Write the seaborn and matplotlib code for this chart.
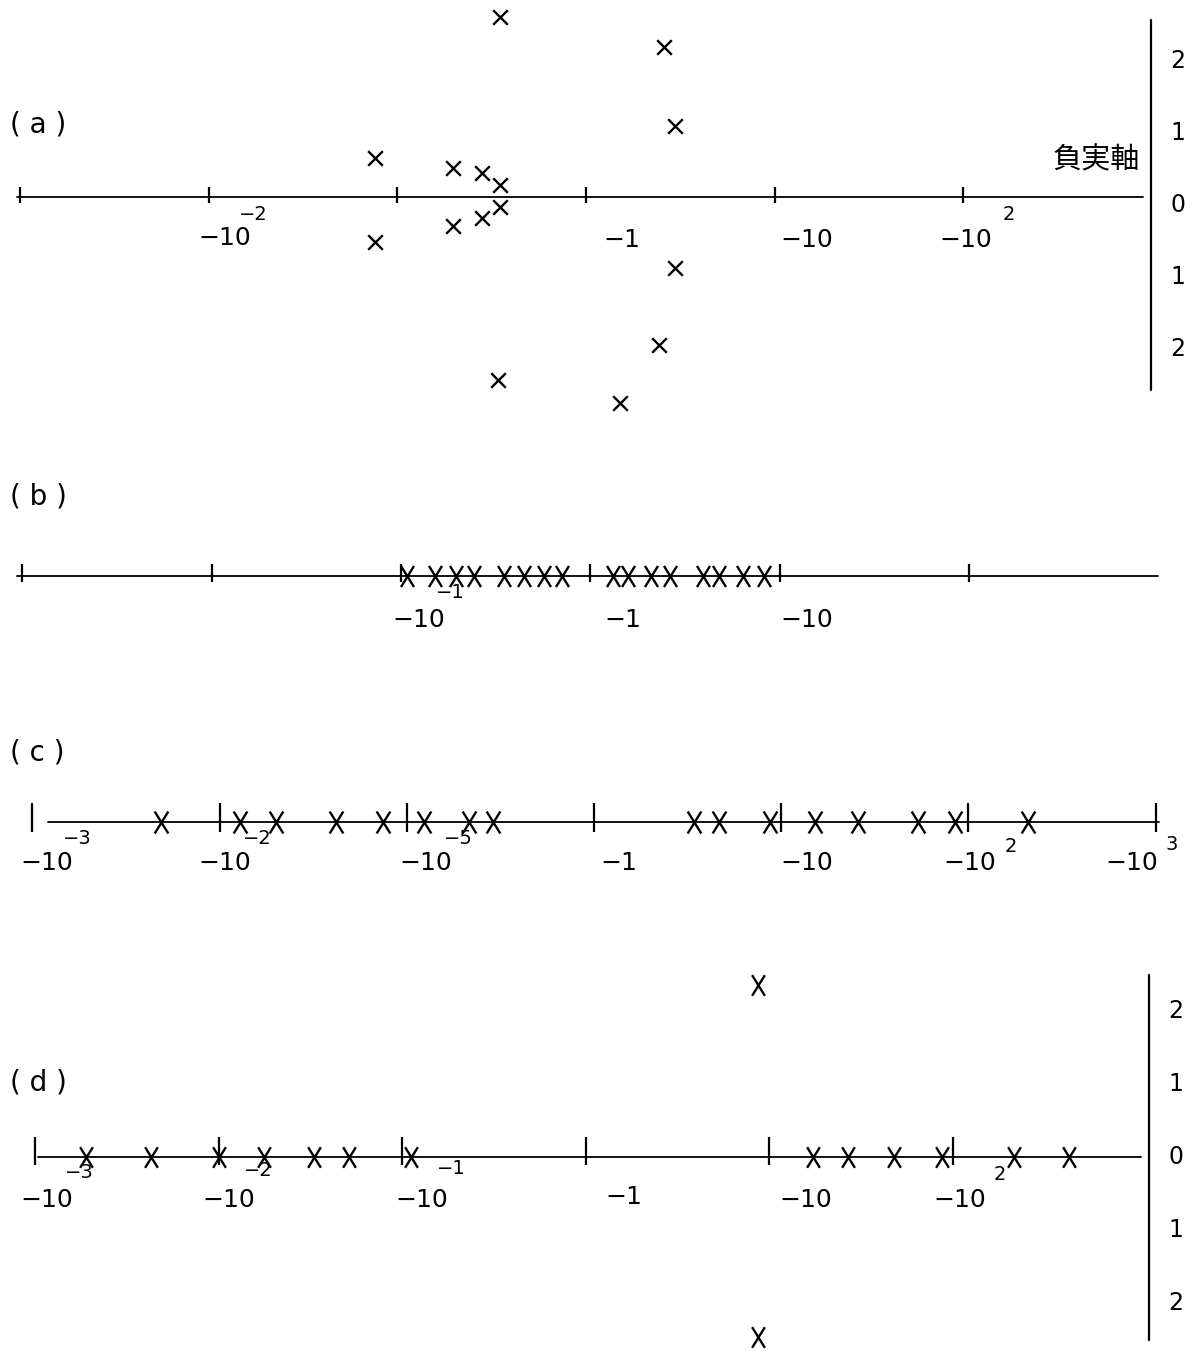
import matplotlib
matplotlib.use("Agg")
import matplotlib.pyplot as plt
from matplotlib.markers import MarkerStyle
from matplotlib.transforms import Affine2D
import seaborn as sns
import pandas as pd

sns.set_theme(style="white")
plt.rcParams["font.family"] = ["DejaVu Sans", "Noto Sans CJK JP"]
plt.rcParams["text.color"] = "black"

W, H = 1197, 1351

# pole positions: magnitude on the negative real axis, imaginary part
a_re = [0.35, 0.076, 0.197, 0.28, 0.35, 0.35, 0.28, 0.197, 0.076, 0.34,
        2.6, 2.95, 2.95, 2.45, 1.51]
a_im = [2.5, 0.54, 0.40, 0.33, 0.17, -0.14, -0.29, -0.40, -0.63, -2.54,
        2.08, 0.99, -0.99, -2.06, -2.86]

b_re = [0.108, 0.151, 0.196, 0.243, 0.349, 0.444, 0.569, 0.705,
        1.32, 1.57, 2.10, 2.62, 3.92, 4.75, 6.37, 8.22]

c_re = [0.00488, 0.0129, 0.0200, 0.0417, 0.0748, 0.123, 0.214, 0.288,
        3.43, 4.65, 8.71, 15.1, 25.7, 53.7, 85.1, 209]

d_re = [0.00191, 0.00427, 0.0100, 0.0178, 0.0331, 0.0513, 0.112,
        17.4, 26.9, 47.9, 87.1, 214, 427, 8.7, 8.7]
d_im = [0, 0, 0, 0, 0, 0, 0, 0, 0, 0, 0, 0, 0, 2.36, -2.47]

imag_ticks = [2, 1, 0, -1, -2]

# panel geometry in pixels: top, bottom, zero line, x of -1, px per decade, px per unit
panels = {
    "a": dict(top=0, bottom=430, zero=197, x0=586, dec=188.6, unit=72),
    "b": dict(top=520, bottom=650, zero=576, x0=590.4, dec=189.4, unit=72),
    "c": dict(top=770, bottom=905, zero=822, x0=594, dec=187.2, unit=72),
    "d": dict(top=950, bottom=1351, zero=1157, x0=585.7, dec=183.6, unit=73),
}

fig = plt.figure(figsize=(W / 100, H / 100), dpi=100)


def make_ax(p):
    ax = fig.add_axes([0, 1 - p["bottom"] / H, 1, (p["bottom"] - p["top"]) / H])
    ax.set_xscale("log")
    ax.set_xlim(10 ** ((0 - p["x0"]) / p["dec"]), 10 ** ((W - p["x0"]) / p["dec"]))
    ax.set_ylim((p["zero"] - p["bottom"]) / p["unit"], (p["zero"] - p["top"]) / p["unit"])
    ax.axis("off")
    ax.patch.set_alpha(0)
    return ax


def px2x(p, px):
    return 10 ** ((px - p["x0"]) / p["dec"])


def draw_axis(ax, p, x_from, x_to, ticks, up, down):
    ax.plot([px2x(p, x_from), px2x(p, x_to)], [0, 0], color="black", lw=1.3)
    ax.vlines([10.0 ** k for k in ticks], -down / p["unit"], up / p["unit"],
              color="black", lw=1.6)


def tick_labels(ax, labels):
    for k, txt, dx, dy, size in labels:
        ax.annotate(txt, (10.0 ** k, 0), xytext=(dx, -dy), textcoords="offset pixels",
                    ha="center", va="center", fontsize=size, color="black")


def imag_axis(ax, p, px, y_top, y_bot, dy):
    xv = px2x(p, px)
    ax.plot([xv, xv], [(p["zero"] - y_top) / p["unit"], (p["zero"] - y_bot) / p["unit"]],
            color="black", lw=1.6)
    for v in imag_ticks:
        ax.annotate(str(abs(v)), (xv, v), xytext=(27, -dy), textcoords="offset pixels",
                    ha="center", va="center", fontsize=17, color="black")


small_x = "x"
tall_x = MarkerStyle("x", transform=Affine2D().scale(0.62, 1.0))
BIG, SM = 18, 14

# (a)
p = panels["a"]
ax = make_ax(p)
draw_axis(ax, p, 17, 1143, [-3, -2, -1, 0, 1, 2], 10, 6)
sns.scatterplot(data=pd.DataFrame({"re": a_re, "im": a_im}), x="re", y="im", ax=ax,
                marker=small_x, s=110, color="black", linewidth=1.7)
tick_labels(ax, [(-2, "−10", 16, 41, BIG), (-2, "−2", 45, 17, SM),
                 (0, "−1", 36, 43, BIG), (1, "−10", 32, 43, BIG),
                 (2, "−10", 3, 43, BIG), (2, "2", 46, 18, SM)])
imag_axis(ax, p, 1151, 20, 390, 8)
ax.annotate("負実軸", (px2x(p, 1140), 0), xytext=(0, 37), textcoords="offset pixels",
            ha="right", va="center", fontsize=21, color="black")

# (b)
p = panels["b"]
ax = make_ax(p)
draw_axis(ax, p, 17, 1158, [-3, -2, -1, 0, 1, 2], 12, 6)
sns.scatterplot(x=b_re, y=[0] * len(b_re), ax=ax, marker=tall_x, s=230,
                color="black", linewidth=1.7)
tick_labels(ax, [(-1, "−10", 18, 44, BIG), (-1, "−1", 49, 16, SM),
                 (0, "−1", 32, 44, BIG), (1, "−10", 27, 44, BIG)])

# (c)
p = panels["c"]
ax = make_ax(p)
draw_axis(ax, p, 48, 1159, [-3, -2, -1, 0, 1, 2, 3], 19, 10)
sns.scatterplot(x=c_re, y=[0] * len(c_re), ax=ax, marker=tall_x, s=250,
                color="black", linewidth=1.7)
tick_labels(ax, [(-3, "−10", 14, 41, BIG), (-3, "−3", 45, 16, SM),
                 (-2, "−10", 5, 41, BIG), (-2, "−2", 38, 16, SM),
                 (-1, "−10", 19, 41, BIG), (-1, "−5", 52, 16, SM),
                 (0, "−1", 25, 41, BIG), (1, "−10", 26, 41, BIG),
                 (2, "−10", 1, 41, BIG), (2, "2", 42, 25, SM),
                 (3, "−10", -24, 41, BIG), (3, "3", 16, 22, SM)])

# (d)
p = panels["d"]
ax = make_ax(p)
draw_axis(ax, p, 38, 1141, [-3, -2, -1, 0, 1, 2], 20, 8)
sns.scatterplot(data=pd.DataFrame({"re": d_re, "im": d_im}), x="re", y="im", ax=ax,
                marker=tall_x, s=220, color="black", linewidth=1.7)
tick_labels(ax, [(-3, "−10", 12, 43, BIG), (-3, "−3", 44, 15, SM),
                 (-2, "−10", 10, 43, BIG), (-2, "−2", 40, 13, SM),
                 (-1, "−10", 20, 43, BIG), (-1, "−1", 49, 11, SM),
                 (0, "−1", 38, 40, BIG), (1, "−10", 36, 43, BIG),
                 (2, "−10", 7, 43, BIG), (2, "2", 47, 18, SM)])
imag_axis(ax, p, 1149, 975, 1340, 0)

for name, ypx in [("a", 125), ("b", 497), ("c", 752), ("d", 1083)]:
    fig.text(10 / W, 1 - ypx / H, f"( {name} )", ha="left", va="center",
             fontsize=20, color="black")

fig.savefig("out.png", dpi=100, facecolor="white")
